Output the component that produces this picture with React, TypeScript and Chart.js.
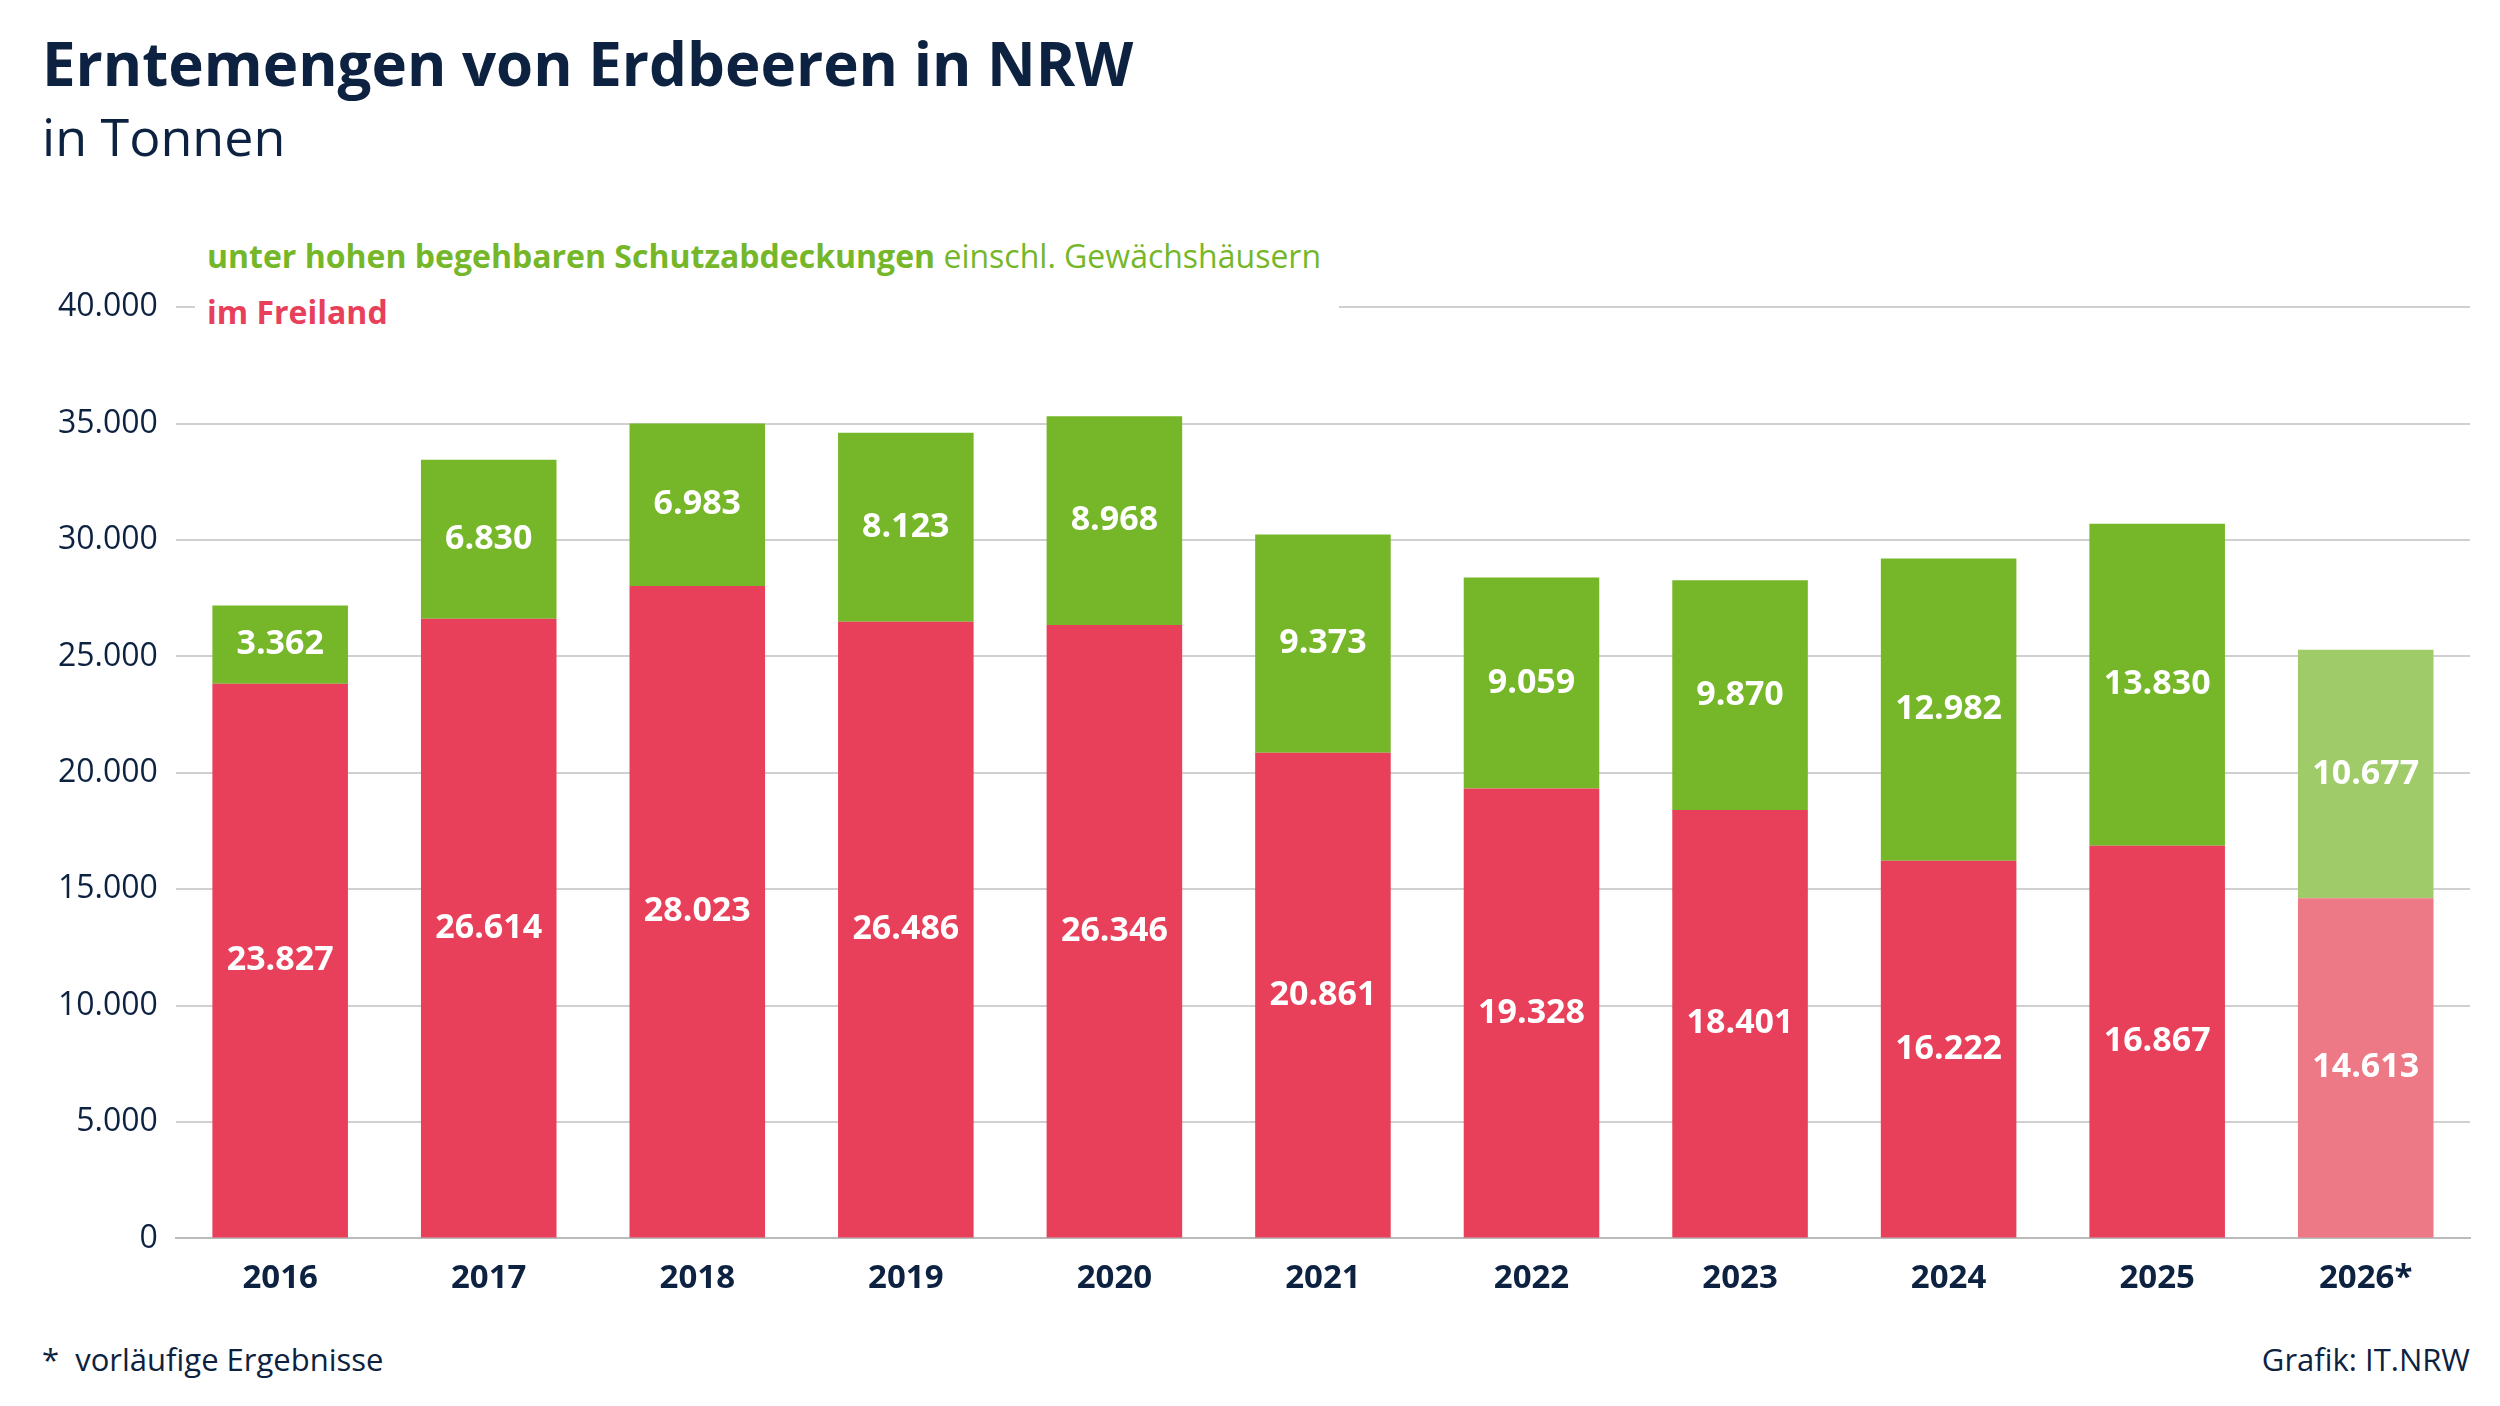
import React, { useEffect, useRef } from "react";
import { Chart, registerables } from "chart.js";
Chart.register(...registerables);

const years = ["2016","2017","2018","2019","2020","2021","2022","2023","2024","2025","2026*"];
const freiland = [23827,26614,28023,26486,26346,20861,19328,18401,16222,16867,14613];
const geschuetzt = [3362,6830,6983,8123,8968,9373,9059,9870,12982,13830,10677];
const red = "#e8405a", redLight = "#ee7986", green = "#76b72a", greenLight = "#9fcc68";
const FONT = "'Open Sans', sans-serif";
const fmt = (v: number) => v.toLocaleString("de-DE");

const labelPlugin = {
  id: "labels",
  afterDatasetsDraw(chart: any) {
    const ctx = chart.ctx;
    ctx.save();
    ctx.font = `bold 34px ${FONT}`;
    ctx.fillStyle = "#fff";
    ctx.textAlign = "center";
    ctx.textBaseline = "middle";
    chart.data.datasets.forEach((ds: any, i: number) => {
      chart.getDatasetMeta(i).data.forEach((bar: any, j: number) => {
        ctx.fillText(fmt(ds.data[j]), bar.x, (bar.y + bar.base) / 2);
      });
    });
    ctx.restore();
  },
};

export default function App() {
  const ref = useRef<HTMLCanvasElement>(null);
  useEffect(() => {
    const c = new Chart(ref.current!, {
      type: "bar",
      data: {
        labels: years,
        datasets: [
          { data: freiland, backgroundColor: years.map((y, i) => i === 10 ? redLight : red), categoryPercentage: 1, barPercentage: 0.65 },
          { data: geschuetzt, backgroundColor: years.map((y, i) => i === 10 ? greenLight : green), categoryPercentage: 1, barPercentage: 0.65 },
        ],
      },
      options: {
        animation: false, responsive: false, maintainAspectRatio: false,
        layout: { padding: { left: 40, right: 30, top: 20 } },
        plugins: { legend: { display: false }, tooltip: { enabled: false } },
        scales: {
          x: { stacked: true, grid: { display: false }, border: { color: "#bbb", width: 2 },
               ticks: { color: "#0d2240", font: { family: FONT, size: 33, weight: "bold" }, padding: 12 } },
          y: { stacked: true, min: 0, max: 40000, border: { display: false },
               grid: { color: "#d0d0d0", lineWidth: 2, drawTicks: false },
               ticks: { stepSize: 5000, color: "#0d2240", font: { family: FONT, size: 32 }, padding: 18, callback: (v: any) => fmt(Number(v)) } },
        },
      },
      plugins: [labelPlugin],
    });
    return () => c.destroy();
  }, []);
  return (
    <div style={{ position: "fixed", left: 0, top: 0, width: 2500, height: 1406, background: "#fff", fontFamily: FONT, color: "#0d2240" }}>
      <div style={{ position: "absolute", left: 42, top: 22, fontSize: 60, fontWeight: 700 }}>Erntemengen von Erdbeeren in NRW</div>
      <div style={{ position: "absolute", left: 42, top: 100, fontSize: 52 }}>in Tonnen</div>
      <canvas ref={ref} width={2500} height={1040} style={{ position: "absolute", left: 0, top: 270 }} />
      <div style={{ position: "absolute", left: 195, top: 228, background: "#fff", padding: "0 18px 0 12px", fontSize: 32, lineHeight: "56px" }}>
        <div style={{ color: green }}><b>unter hohen begehbaren Schutzabdeckungen</b> einschl. Gewächshäusern</div>
        <div style={{ color: red, fontWeight: 700 }}>im Freiland</div>
      </div>
      <div style={{ position: "absolute", left: 42, top: 1338, fontSize: 31 }}>*&nbsp; vorläufige Ergebnisse</div>
      <div style={{ position: "absolute", right: 30, top: 1338, fontSize: 31 }}>Grafik: IT.NRW</div>
    </div>
  );
}
